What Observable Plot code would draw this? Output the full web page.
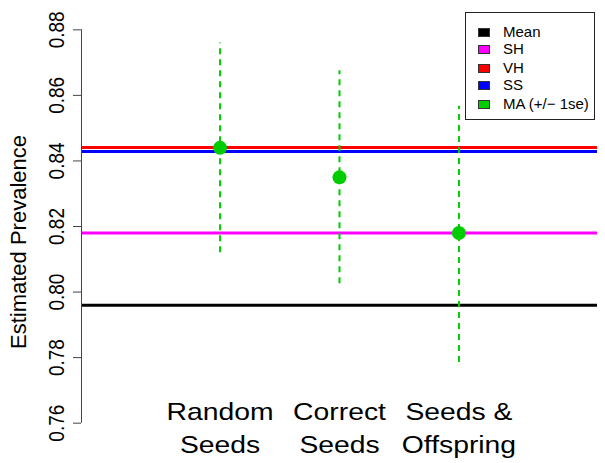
<!DOCTYPE html>
<html>
<head>
<meta charset="utf-8">
<script src="https://cdn.jsdelivr.net/npm/d3@7"></script>
<script src="https://cdn.jsdelivr.net/npm/@observablehq/plot@0.6"></script>
<style>
  html, body { margin: 0; padding: 0; background: white; }
  #wrap { position: relative; width: 605px; height: 463px; font-family: "Liberation Sans", Arial, sans-serif; }
  #legend { position: absolute; left: 465px; top: 12px; width: 130px; height: 108px; border: 1px solid #222; background: white; box-sizing: border-box; }
  .row { position: absolute; left: 0; height: 18px; line-height: 18px; font-size: 15px; color: #000; white-space: nowrap; }
  .sw { position: absolute; left: 12px; top: 5px; width: 12px; height: 9px; border: 1px solid #333; box-sizing: border-box; }
  .lab { position: absolute; left: 37px; top: 0; }
</style>
</head>
<body>
<div id="wrap"><div id="legend"></div></div>
<script>
// ---- data ----
const categories = ["Random\nSeeds", "Correct\nSeeds", "Seeds &\nOffspring"];
const categoryPos = [1, 2, 3];
const maEstimate = [0.844, 0.835, 0.818];
const maLower = [0.812, 0.8025, 0.7785];
const maUpper = [0.876, 0.8675, 0.8567];

const refNames = ["Mean", "SH", "VH", "SS"];
const refValues = [0.796, 0.818, 0.8441, 0.8429];

const legendNames = ["Mean", "SH", "VH", "SS", "MA (+/\u2212 1se)"];
const yTicks = [0.76, 0.78, 0.80, 0.82, 0.84, 0.86, 0.88];
const yTitle = "Estimated Prevalence";
const xlim = [0, 4];
const ylim = [0.76, 0.88];
const labelLevel = 0.76;

// ---- styles ----
const legendColors = ["#000000", "#FF00FF", "#FF0000", "#0000FF", "#00CD00"];
const refColors = legendColors.slice(0, 4);
const green = "#00CD00";

const refTable = refNames.map((n, i) => ({name: n, value: refValues[i], color: refColors[i]}));
const methods = categories.map((c, i) => ({label: c, pos: categoryPos[i], est: maEstimate[i], lo: maLower[i], hi: maUpper[i]}));

const xpad = 0.04 * (xlim[1] - xlim[0]);
const ypad = 0.04 * (ylim[1] - ylim[0]);
const xmin = xlim[0] - xpad;

const chart = Plot.plot({
  width: 605,
  height: 463,
  marginLeft: 81,
  marginRight: 8,
  marginTop: 13.6,
  marginBottom: 24.6,
  style: {fontFamily: "'Liberation Sans', Arial, sans-serif", background: "white", color: "black"},
  x: {domain: [xlim[0] - xpad, xlim[1] + xpad], axis: null},
  y: {domain: [ylim[0] - ypad, ylim[1] + ypad], axis: null},
  color: {type: "identity"},
  marks: [
    Plot.ruleY(refTable, {y: "value", stroke: "color", strokeWidth: 3}),
    Plot.ruleX(methods, {x: "pos", y1: "lo", y2: "hi", stroke: green, strokeWidth: 2, strokeDasharray: "6,5"}),
    Plot.dot(methods, {x: "pos", y: "est", r: 7, fill: green, stroke: "none"}),
    Plot.text(methods, {x: "pos", y: () => labelLevel, text: "label", fontSize: 24, lineHeight: 1.36, dy: 3, fill: "black", ariaDescription: "category-labels"}),
    Plot.ruleX([xmin], {x: d => d, y1: ylim[0], y2: ylim[1], stroke: "#444", strokeWidth: 1}),
    Plot.axisY({ticks: yTicks, anchor: "left", tickSize: 8, tickPadding: 10, tickRotate: -90, tickFormat: d => d.toFixed(2), fontSize: 19, label: null, stroke: "#444", fill: "black"}),
    Plot.text([yTitle], {frameAnchor: "left", textAnchor: "middle", rotate: -90, dx: -56, dy: 15.5, fontSize: 22, lineAnchor: "bottom", text: d => d, fill: "black", ariaDescription: "y-title"})
  ]
});
document.getElementById("wrap").prepend(chart);

// the reference's lettering is slightly stretched horizontally
function stretch(nodes, sx, sy) {
  nodes.forEach(node => {
    let t = node.getAttribute("transform") || "";
    const x = node.getAttribute("x"), y = node.getAttribute("y");
    if (x !== null || y !== null) {
      t = `translate(${+x || 0},${+y || 0}) ` + t;
      node.removeAttribute("x");
      node.removeAttribute("y");
    }
    node.setAttribute("transform", t + ` scale(${sx},${sy})`);
  });
}
const catTexts = Array.from(chart.querySelectorAll('g[aria-description="category-labels"] text'));
stretch(catTexts, 1.18, 1);
const tickTexts = Array.from(chart.querySelectorAll("text")).filter(n =>
  !catTexts.includes(n) && !n.closest('g[aria-description="y-title"]') && /^\d\.\d\d$/.test(n.textContent.trim()));
stretch(tickTexts, 1, 1.18);

// legend
const legend = document.getElementById("legend");
const rowCenters = [18.5, 36.3, 54.5, 72.3, 90.5];
legendNames.forEach((n, i) => {
  const row = document.createElement("div");
  row.className = "row";
  row.style.top = (rowCenters[i] - 9) + "px";
  row.innerHTML = `<span class="sw" style="background:${legendColors[i]}"></span><span class="lab">${n}</span>`;
  legend.appendChild(row);
});
</script>
</body>
</html>
